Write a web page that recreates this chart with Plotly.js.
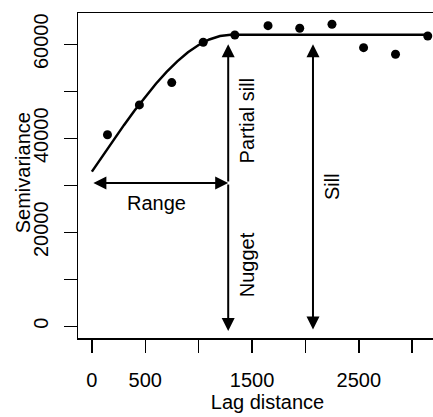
<!DOCTYPE html>
<html>
<head>
<meta charset="utf-8">
<script src="https://cdn.plot.ly/plotly-3.0.1.min.js"></script>
<style>
html,body{margin:0;padding:0;overflow:hidden;background:#fff;}
#chart{width:470px;height:417px;}
</style>
</head>
<body>
<div id="chart"></div>
<script>
// Empirical semivariogram points
const lagDist = [146, 445, 748, 1043, 1339, 1650, 1947, 2249, 2545, 2844, 3146];
const semivar = [40740, 47100, 51840, 60420, 61970, 63950, 63400, 64250, 59270, 57870, 61760];

// Fitted model line
const modelDist = [0, 100, 200, 300, 400, 500, 600, 700, 800, 900, 1000, 1100, 1200, 1300, 3150];
const modelVal  = [32900, 36250, 39560, 42790, 45910, 48860, 51610, 54130, 56370, 58290, 59850, 61020, 61750, 62000, 62000];

// Annotation values
const rangeVal = 1277;
const nuggetLevel = 30500;
const arrowTop = 60000;
const arrowBottom = -1000;
const sillX = 2071;

// Axis ticks
const xTickVals = [0, 500, 1000, 1500, 2000, 2500, 3000];
const xTickText = ['0', '500', '', '1500', '', '2500', ''];
const yTickVals = [0, 10000, 20000, 30000, 40000, 50000, 60000];
const yTickText = ['0', '', '20000', '', '40000', '', '60000'];

const font = 'Liberation Sans, Arial, sans-serif';

const traces = [
  {x: modelDist, y: modelVal, mode: 'lines', type: 'scatter',
   line: {color: '#000', width: 2.5}, hoverinfo: 'skip'},
  {x: lagDist, y: semivar, mode: 'markers', type: 'scatter',
   marker: {color: '#000', size: 9}, hoverinfo: 'skip'}
];

function arrow(x, y, ax, ay, side) {
  return {x: x, y: y, ax: ax, ay: ay, xref: 'x', yref: 'y', axref: 'x', ayref: 'y',
    showarrow: true, arrowhead: 2, arrowsize: 1.3, arrowwidth: 2, arrowcolor: '#000',
    standoff: 0, startstandoff: 0, arrowside: side || 'end', startarrowhead: 2, startarrowsize: 1.3, text: ''};
}
function label(x, y, t, ang) {
  return {x: x, y: y, xref: 'x', yref: 'y', text: t, showarrow: false, textangle: ang || 0,
    font: {family: font, size: 20, color: '#000'}};
}

const annotations = [
  arrow(rangeVal, nuggetLevel, 0, nuggetLevel, 'end+start'),
  arrow(rangeVal, arrowTop, rangeVal, nuggetLevel),
  arrow(rangeVal, arrowBottom, rangeVal, nuggetLevel),
  arrow(sillX, arrowTop, sillX, arrowBottom, 'end+start'),
  label(607, 26220, 'Range'),
  label(1449, 43700, 'Partial sill', -90),
  label(1449, 13110, 'Nugget', -90),
  label(2243, 29680, 'Sill', -90),
  {xref: 'paper', yref: 'paper', x: -0.145, y: 0.507, xanchor: 'center', yanchor: 'middle',
   text: 'Semivariance', showarrow: false, textangle: -90,
   font: {family: font, size: 20, color: '#000'}}
];

const layout = {
  width: 470, height: 417,
  margin: {l: 78, r: 13, t: 13, b: 79},
  paper_bgcolor: '#fff', plot_bgcolor: '#fff',
  showlegend: false,
  font: {family: font, size: 20, color: '#000'},
  xaxis: {range: [-130, 3420], tickvals: xTickVals, ticktext: xTickText,
    ticks: 'outside', ticklen: 13, tickwidth: 1.5, tickcolor: '#000',
    showline: true, mirror: true, linewidth: 1.5, linecolor: '#000',
    showgrid: false, zeroline: false, ticklabelstandoff: 10,
    tickfont: {family: font, size: 20, color: '#000'},
    title: {text: 'Lag distance', font: {family: font, size: 20, color: '#000'}, standoff: 5}},
  yaxis: {range: [-2500, 66650], tickvals: yTickVals, ticktext: yTickText,
    ticks: 'outside', ticklen: 13, tickwidth: 1.5, tickcolor: '#000',
    showline: true, mirror: true, linewidth: 1.5, linecolor: '#000',
    showgrid: false, zeroline: false, tickangle: -90, ticklabelstandoff: 8,
    tickfont: {family: font, size: 20, color: '#000'}},
  annotations: annotations
};

Plotly.newPlot('chart', traces, layout, {displayModeBar: false, staticPlot: true});
</script>
</body>
</html>
